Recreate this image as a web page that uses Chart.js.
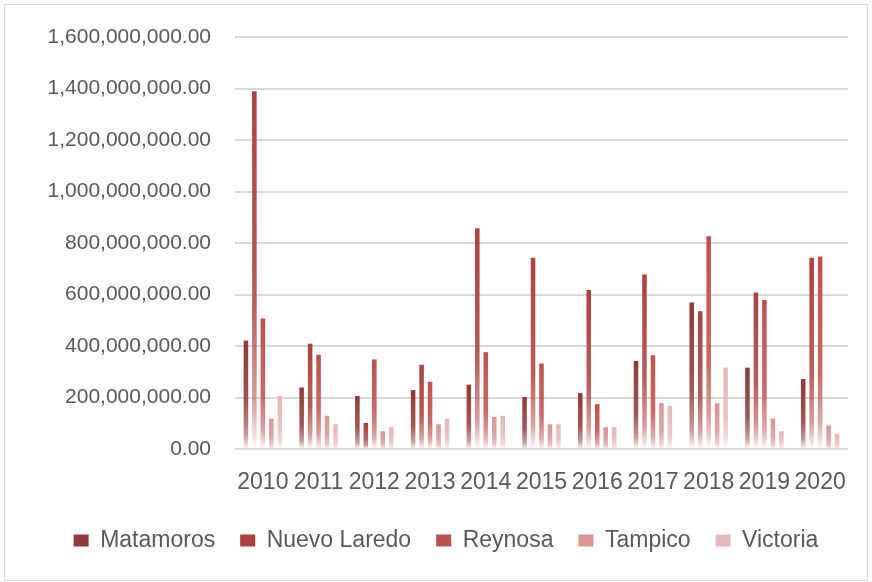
<!DOCTYPE html>
<html>
<head>
<meta charset="utf-8">
<script src="https://cdn.jsdelivr.net/npm/chart.js@4/dist/chart.umd.min.js"></script>
<style>
  html, body { margin: 0; padding: 0; background: #fff; }
  #wrap { width: 872px; height: 582px; position: relative; }
</style>
</head>
<body>
<div id="wrap"><canvas id="chart" width="872" height="582"></canvas></div>
<script>
// years on the x axis
var years = ["2010", "2011", "2012", "2013", "2014", "2015", "2016", "2017", "2018", "2019", "2020"];

// values (millions)
var matamoros   = [421, 239, 206, 229, 250, 202, 217, 342, 569, 316, 272];
var nuevoLaredo = [1389, 409, 101, 327, 857, 743, 617, 678, 535, 608, 743];
var reynosa     = [507, 366, 348, 261, 376, 332, 174, 364, 826, 579, 748];
var tampico     = [118, 129, 69, 96, 124, 96, 85, 178, 178, 118, 91];
var victoria    = [206, 96, 85, 118, 129, 96, 85, 168, 316, 69, 59];

var seriesNames = ["Matamoros", "Nuevo Laredo", "Reynosa", "Tampico", "Victoria"];
var seriesData = [matamoros, nuevoLaredo, reynosa, tampico, victoria];
var seriesColors = ["#8e3a38", "#ab423f", "#c0504d", "#d99694", "#e6b9b8"];

function rgba(hex, a) {
  var r = parseInt(hex.substr(1, 2), 16), g = parseInt(hex.substr(3, 2), 16), b = parseInt(hex.substr(5, 2), 16);
  return "rgba(" + r + "," + g + "," + b + "," + a + ")";
}

// each bar fades from its colour at the top to white at the base
function barFill(color) {
  return function (c) {
    var chart = c.chart;
    if (!chart.chartArea || c.type !== "data") return color;
    var y = chart.scales.y;
    var top = y.getPixelForValue(c.raw);
    var base = y.getPixelForValue(0);
    if (!isFinite(top) || base - top < 1) return color;
    var g = chart.ctx.createLinearGradient(0, top, 0, base);
    g.addColorStop(0, rgba(color, 1));
    g.addColorStop(0.6, rgba(color, 0.85));
    g.addColorStop(0.87, rgba(color, 0.5));
    g.addColorStop(1, rgba(color, 0.03));
    return g;
  };
}

var datasets = seriesNames.map(function (name, i) {
  return {
    label: name,
    data: seriesData[i].map(function (v) { return v * 1e6; }),
    backgroundColor: barFill(seriesColors[i]),
    borderWidth: 0,
    categoryPercentage: 0.76,
    barPercentage: 0.54
  };
});

var frame = {
  id: "frame",
  afterDraw: function (chart) {
    var ctx = chart.ctx;
    ctx.save();
    ctx.strokeStyle = "#d9d9d9";
    ctx.lineWidth = 1;
    ctx.strokeRect(4.5, 4.5, 863, 576);
    ctx.restore();
  }
};

var font = "'Liberation Sans', Arial, sans-serif";
var grey = "#595959";

new Chart(document.getElementById("chart"), {
  type: "bar",
  data: { labels: years, datasets: datasets },
  plugins: [frame],
  options: {
    responsive: false,
    animation: false,
    layout: { padding: { left: 44, right: 24, top: 37, bottom: 20 } },
    plugins: {
      tooltip: { enabled: false },
      legend: {
        position: "bottom",
        labels: {
          color: grey,
          font: { family: font, size: 23 },
          boxWidth: 15,
          boxHeight: 12,
          padding: 25,
          generateLabels: function (chart) {
            return seriesNames.map(function (n, i) {
              return { text: n, fillStyle: seriesColors[i], strokeStyle: seriesColors[i], lineWidth: 0, datasetIndex: i, fontColor: grey };
            });
          }
        }
      }
    },
    scales: {
      x: {
        grid: { display: false, drawTicks: false },
        border: { display: false },
        ticks: { color: grey, font: { family: font, size: 23 }, padding: 20, autoSkip: false, maxRotation: 0 },
        afterFit: function (s) { s.height = 55; }
      },
      y: {
        min: 0,
        max: 1600000000,
        grid: { color: "#d9d9d9", lineWidth: 2, drawTicks: false },
        border: { display: false },
        ticks: {
          stepSize: 200000000,
          color: grey,
          padding: 24,
          font: { family: font, size: 21 },
          callback: function (v) { return Number(v).toLocaleString("en-US", { minimumFractionDigits: 2, maximumFractionDigits: 2 }); }
        },
        afterFit: function (s) { s.width = 191; }
      }
    }
  }
});
</script>
</body>
</html>
